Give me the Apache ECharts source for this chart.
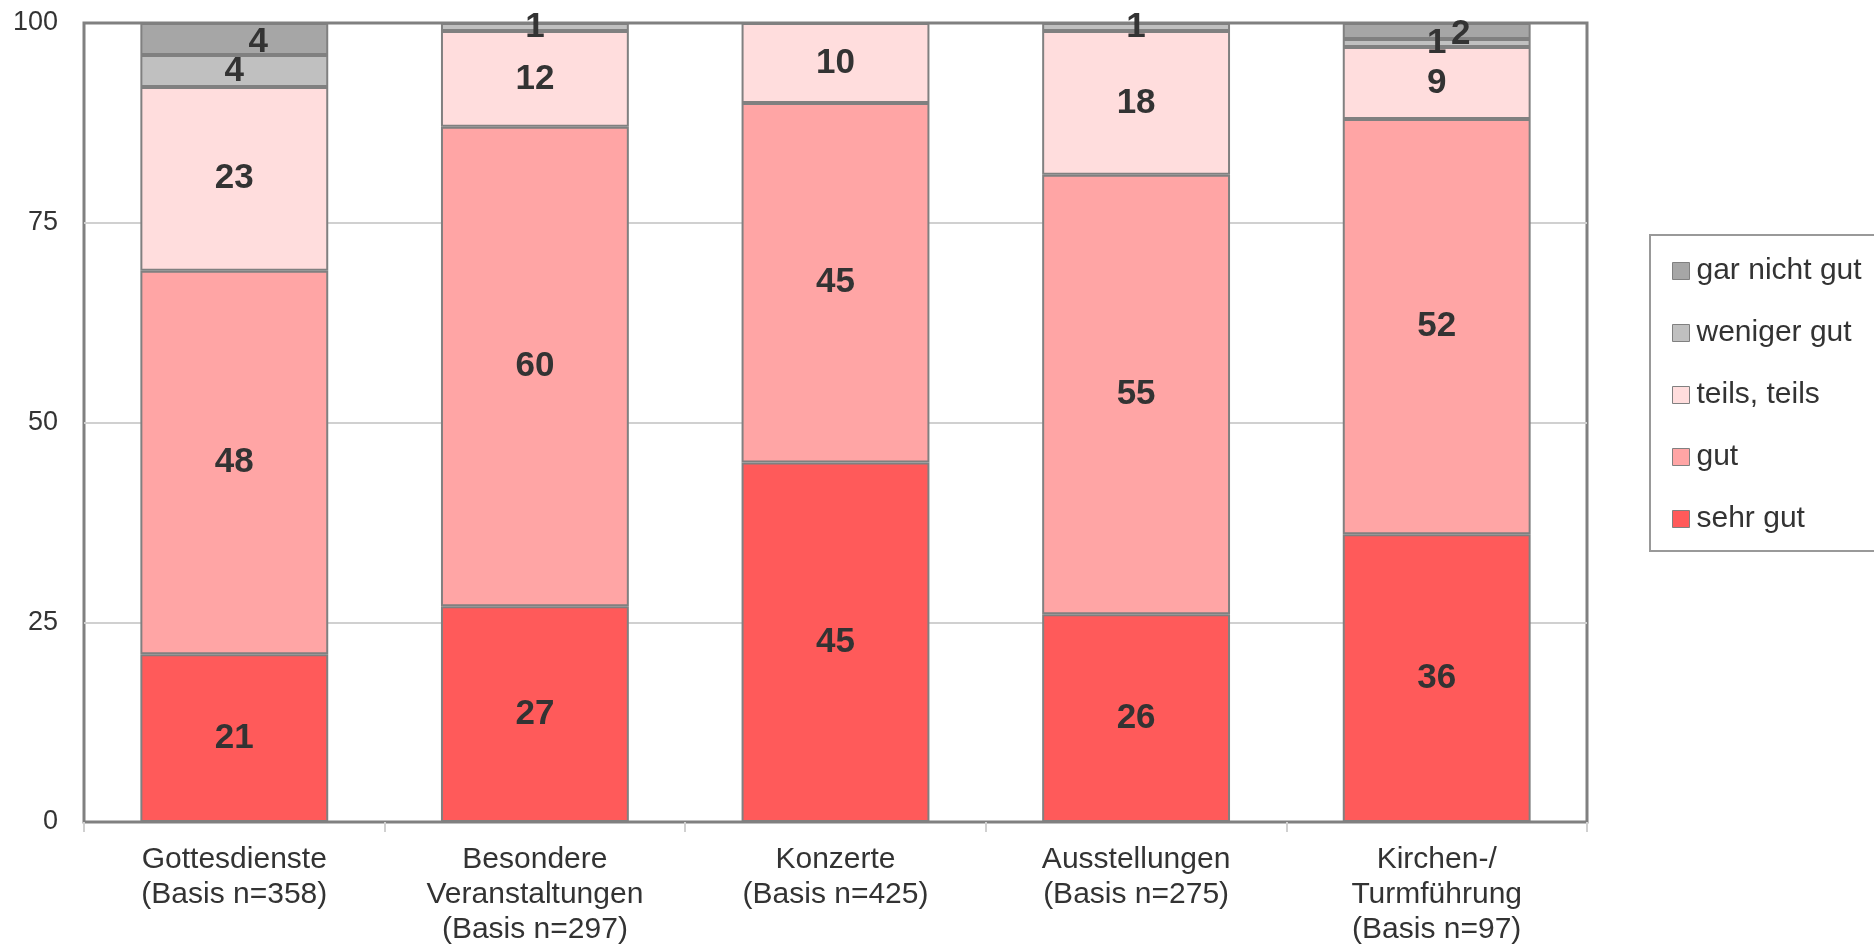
<!DOCTYPE html>
<html>
<head>
<meta charset="utf-8">
<script src="https://cdn.jsdelivr.net/npm/echarts@6/dist/echarts.min.js"></script>
<style>
  html, body { margin: 0; padding: 0; background: #fff; }
  #chart { width: 1874px; height: 947px; }
</style>
</head>
<body>
<div id="chart"></div>
<script>
const categories = [
  'Gottesdienste\n(Basis n=358)',
  'Besondere\nVeranstaltungen\n(Basis n=297)',
  'Konzerte\n(Basis n=425)',
  'Ausstellungen\n(Basis n=275)',
  'Kirchen-/\nTurmführung\n(Basis n=97)'
]
const sehrGut = [21, 27, 45, 26, 36]
const gut = [48, 60, 45, 55, 52]
const teilsTeils = [23, 12, 10, 18, 9]
const wenigerGut = [4, 1, 0, 1, 1]
const garNichtGut = [4, 0, 0, 0, 2]
const yTicks = [0, 25, 50, 75, 100]

const textColor = '#333333'
const borderColor = '#808080'

function makeSeries(name, data, color, labelOffset) {
  return {
    name: name,
    type: 'bar',
    stack: 'total',
    barCategoryGap: '37.5%',
    itemStyle: {
      color: color,
      borderColor: borderColor,
      borderWidth: 2
    },
    label: {
      show: true,
      position: 'inside',
      offset: labelOffset || [0, 0],
      color: textColor,
      fontFamily: 'Liberation Sans',
      fontWeight: 'bold',
      fontSize: 35,
      formatter: function(p) {
        return p.value === 0 ? '' : p.value
      }
    },
    emphasis: { disabled: true },
    data: data
  }
}

const chart = echarts.init(document.getElementById('chart'))
chart.setOption({
  animation: false,
  textStyle: { fontFamily: 'Liberation Sans' },
  grid: {
    left: 84,
    top: 23,
    width: 1503,
    height: 801,
    show: true,
    borderColor: borderColor,
    borderWidth: 3,
    containLabel: false
  },
  legend: {
    orient: 'vertical',
    left: 1650,
    top: 235,
    padding: [21, 40, 17, 22],
    itemWidth: 17,
    itemHeight: 17,
    itemGap: 32,
    borderColor: '#999999',
    borderWidth: 2,
    icon: 'rect',
    itemStyle: { borderColor: borderColor, borderWidth: 1 },
    textStyle: { color: textColor, fontSize: 30, padding: [0, 0, 0, 2] },
    data: ['gar nicht gut', 'weniger gut', 'teils, teils', 'gut', 'sehr gut']
  },
  xAxis: {
    type: 'category',
    data: categories,
    axisLine: { show: false },
    axisTick: {
      show: true,
      length: 10,
      lineStyle: { color: '#D0D0D0', width: 2 }
    },
    axisLabel: {
      color: textColor,
      fontSize: 30,
      lineHeight: 35,
      margin: 20,
      interval: 0
    }
  },
  yAxis: {
    type: 'value',
    min: 0,
    max: 100,
    interval: 25,
    axisLine: { show: false },
    axisTick: { show: false },
    splitLine: {
      showMinLine: false,
      showMaxLine: false,
      lineStyle: { color: '#D0D0D0', width: 2 }
    },
    axisLabel: {
      color: textColor,
      fontSize: 27,
      margin: 26,
      formatter: function(v) {
        return yTicks.indexOf(v) >= 0 ? String(v) : ''
      }
    }
  },
  series: [
    makeSeries('sehr gut', sehrGut, '#FF5A5A'),
    makeSeries('gut', gut, '#FFA5A5'),
    makeSeries('teils, teils', teilsTeils, '#FFDDDD'),
    makeSeries('weniger gut', wenigerGut, '#C0C0C0'),
    makeSeries('gar nicht gut', garNichtGut, '#A6A6A6', [24, 3])
  ]
})
</script>
</body>
</html>
